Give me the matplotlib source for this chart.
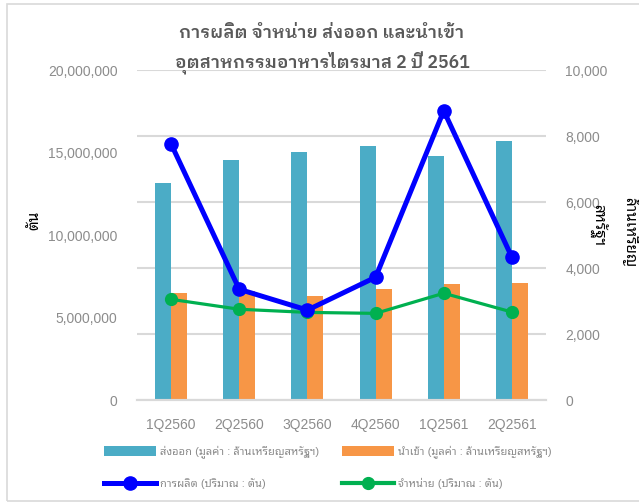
import matplotlib
matplotlib.use("Agg")
import matplotlib.pyplot as plt
import matplotlib.ticker as mticker
from matplotlib.patches import Rectangle, Patch
from matplotlib.lines import Line2D
import numpy as np

FONT = ["Liberation Sans", "Noto Sans Thai Looped", "DejaVu Sans"]
TITLE_FONT = ["IBM Plex Sans Thai Looped", "Noto Sans Thai Looped", "Liberation Sans"]
plt.rcParams["font.family"] = FONT

# Quarterly data
quarters = ["1Q2560", "2Q2560", "3Q2560", "4Q2560", "1Q2561", "2Q2561"]
export_value = [6570, 7270, 7520, 7700, 7390, 7850]        # million USD
import_value = [3230, 3310, 3140, 3370, 3530, 3560]        # million USD
production_tons = [15520000, 6710000, 5450000, 7440000, 17530000, 8650000]
sales_tons = [6100000, 5500000, 5310000, 5250000, 6470000, 5330000]

title_lines = ["การผลิต จำหน่าย ส่งออก และนำเข้า", "อุตสาหกรรมอาหารไตรมาส 2 ปี 2561"]
lbl_export = "ส่งออก (มูลค่า : ล้านเหรียญสหรัฐฯ)"
lbl_import = "นำเข้า (มูลค่า : ล้านเหรียญสหรัฐฯ)"
lbl_prod = "การผลิต (ปริมาณ : ตัน)"
lbl_sales = "จำหน่าย (ปริมาณ : ตัน)"

C_EXPORT = "#4BACC6"
C_IMPORT = "#F79646"
C_PROD = "#0000FF"
C_SALES = "#00B050"
C_GRID = "#D9D9D9"
C_TICK = "#8C8C8C"
C_TEXT = "#595959"

W, H = 639, 503
fig = plt.figure(figsize=(W / 100, H / 100), dpi=100)

# chart frame
fig.add_artist(Rectangle((7 / W, 2 / H), 1.0, (H - 6) / H, transform=fig.transFigure,
                         fill=False, edgecolor=C_GRID, linewidth=1.2))

left, right, top, bottom = 137, 546, 70, 400
ax = fig.add_axes([left / W, 1 - bottom / H, (right - left) / W, (bottom - top) / H])
ax2 = ax.twinx()

x = np.arange(len(quarters))
bw = 0.235

# bars on the secondary (value) axis
ax2.bar(x - bw / 2, export_value, width=bw, color=C_EXPORT, zorder=2)
ax2.bar(x + bw / 2, import_value, width=bw, color=C_IMPORT, zorder=2)
ax2.set_ylim(0, 10000)
ax2.yaxis.set_major_locator(mticker.MultipleLocator(2000))
ax2.yaxis.grid(True, color=C_GRID, linewidth=1.5, zorder=0)
ax2.set_axisbelow(True)

# lines on the primary (volume) axis, drawn above the bars
ax.set_zorder(ax2.get_zorder() + 1)
ax.patch.set_visible(False)
ax.plot(x, production_tons, color=C_PROD, linewidth=3.6, marker="o", markersize=9.5,
        solid_capstyle="round", zorder=4)
ax.plot(x, sales_tons, color=C_SALES, linewidth=2.3, marker="o", markersize=8.5,
        solid_capstyle="round", zorder=3)
ax.set_ylim(0, 20000000)
ax.yaxis.set_major_locator(mticker.MultipleLocator(5000000))
ax.set_xlim(-0.5, len(quarters) - 0.5)
ax.set_xticks(x)
ax.set_xticklabels(quarters)

fmt = mticker.FuncFormatter(lambda v, p: f"{v:,.0f}")
ax.yaxis.set_major_formatter(fmt)
ax2.yaxis.set_major_formatter(fmt)

for a in (ax, ax2):
    for s in ("top", "left", "right"):
        a.spines[s].set_visible(False)
    a.spines["bottom"].set_color(C_GRID)
    a.spines["bottom"].set_linewidth(1.5)
    a.tick_params(axis="both", length=0, labelsize=10, labelcolor=C_TICK)
ax.tick_params(axis="y", pad=14)
ax2.tick_params(axis="y", pad=14)
ax.tick_params(axis="x", pad=13)

# titles
fig.text(322 / W, 1 - 33 / H, title_lines[0], ha="center", va="center",
         fontsize=12.7, fontweight="semibold", color=C_TEXT, family=TITLE_FONT)
fig.text(322 / W, 1 - 63 / H, title_lines[1], ha="center", va="center",
         fontsize=12.7, fontweight="semibold", color=C_TEXT, family=TITLE_FONT)

# axis titles
fig.text(34 / W, 1 - 220 / H, "ตัน", rotation=90, ha="center", va="center",
         fontsize=11, fontweight="bold", color="black")
fig.text(630 / W, 1 - 232 / H, "ล้านเหรียญ", rotation=-90, ha="center", va="center",
         fontsize=11, fontweight="bold", color="black")
fig.text(597 / W, 1 - 225 / H, "สหรัฐฯ", rotation=-90, ha="center", va="center",
         fontsize=11, fontweight="bold", color="black")

# legend
handles = [
    Patch(facecolor=C_EXPORT, edgecolor="none"),
    Line2D([], [], color=C_PROD, linewidth=3.6, marker="o", markersize=9.5),
    Patch(facecolor=C_IMPORT, edgecolor="none"),
    Line2D([], [], color=C_SALES, linewidth=3.0, marker="o", markersize=8.5),
]
labels = [lbl_export, lbl_prod, lbl_import, lbl_sales]
leg = fig.legend(handles, labels, ncol=2, loc="upper left",
                 bbox_to_anchor=(98 / W, 1 - 440 / H), frameon=False,
                 fontsize=8, handlelength=4.7, handleheight=0.95,
                 handletextpad=0.35, columnspacing=2.1, labelspacing=1.75,
                 borderpad=0)
for t in leg.get_texts():
    t.set_color(C_TICK)

fig.savefig("out.png", dpi=100)
